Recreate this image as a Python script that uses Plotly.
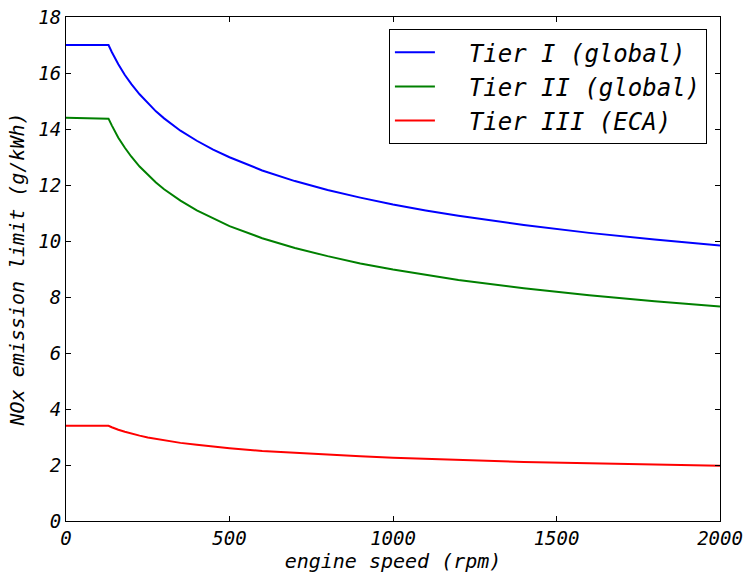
import plotly.graph_objects as go

# engine speed (rpm) and NOx limits (g/kWh) per tier
rpm = [0, 130, 140, 150, 160, 180, 200, 225, 250, 275, 300, 350, 400, 450, 500,
       600, 700, 800, 900, 1000, 1100, 1200, 1400, 1600, 1800, 2000]
tier1 = [17.0, 17.0, 16.75, 16.52, 16.31, 15.93, 15.60, 15.24, 14.92, 14.63, 14.38,
         13.94, 13.58, 13.26, 12.99, 12.52, 12.14, 11.82, 11.55, 11.30, 11.09, 10.90,
         10.57, 10.29, 10.05, 9.84]
tier2 = [14.4, 14.37, 14.13, 13.90, 13.69, 13.33, 13.01, 12.66, 12.36, 12.09, 11.85,
         11.44, 11.09, 10.80, 10.53, 10.10, 9.75, 9.46, 9.20, 8.98, 8.79, 8.61,
         8.31, 8.06, 7.85, 7.66]
tier3 = [3.4, 3.4, 3.35, 3.30, 3.26, 3.19, 3.12, 3.05, 2.98, 2.93, 2.88,
         2.79, 2.72, 2.65, 2.60, 2.50, 2.43, 2.36, 2.31, 2.26, 2.22, 2.18,
         2.11, 2.06, 2.01, 1.97]

names = ["Tier I (global)", "Tier II (global)", "Tier III (ECA)"]
colors = ["#0000ff", "#008000", "#ff0000"]

font = "DejaVu Sans Mono"
pad = "\u00a0\u00a0"  # gap between legend line and label

fig = go.Figure()
for ys, nm, c in zip([tier1, tier2, tier3], names, colors):
    fig.add_trace(go.Scatter(x=rpm, y=ys, mode="lines", name=pad + nm, legendgroup=nm,
                             line=dict(color=c, width=2)))

axis_common = dict(showgrid=False, zeroline=False, showline=True, linecolor="black",
                   linewidth=1, mirror="ticks", ticks="inside", ticklen=5,
                   tickcolor="black", automargin=False, ticklabeloverflow="allow",
                   tickfont=dict(family=font, size=19, color="black", style="italic"))

fig.update_xaxes(range=[0, 2000], tickvals=[0, 500, 1000, 1500, 2000],
                 title=dict(text="engine speed (rpm)", standoff=5,
                            font=dict(family=font, size=20, color="black", style="italic")),
                 **axis_common)
fig.update_yaxes(range=[0, 18], tickvals=list(range(0, 19, 2)),
                 title=dict(text="NOx emission limit (g/kWh)", standoff=8,
                            font=dict(family=font, size=20, color="black", style="italic")),
                 **axis_common)

fig.update_layout(
    width=744, height=576,
    margin=dict(l=66, r=24, t=17, b=55),
    plot_bgcolor="white", paper_bgcolor="white",
    legend=dict(x=0.98, y=0.976, xanchor="right", yanchor="top",
                bgcolor="white", bordercolor="black", borderwidth=1,
                font=dict(family=font, size=24, color="black", style="italic"),
                itemwidth=40, tracegroupgap=0),
)

fig.write_html("out.html")
